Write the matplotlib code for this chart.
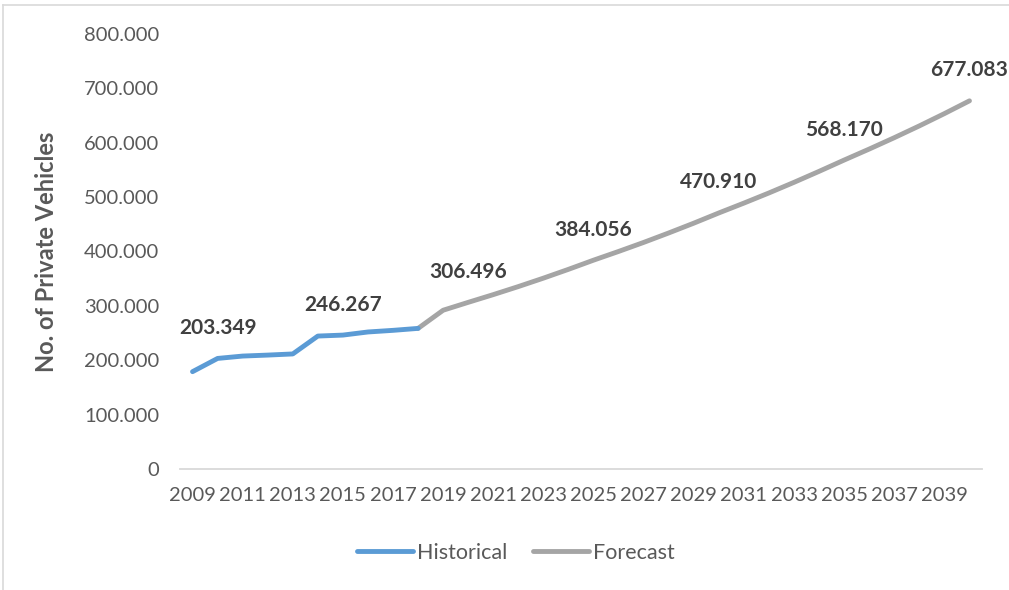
import matplotlib.pyplot as plt
from matplotlib.lines import Line2D

# years on the category axis
years = list(range(2009, 2041))

# historical private vehicles (thousands), 2009-2018
hist_years = list(range(2009, 2019))
hist_vals = [179.0, 203.349, 207.7, 209.5, 211.6, 244.5, 246.267, 252.0, 255.0, 258.6]

# forecast (thousands), 2018-2040
fc_years = list(range(2018, 2041))
fc_vals = [258.6, 292.0, 306.496, 320.7, 335.5, 351.0, 367.2, 384.056,
           400.1, 416.7, 434.1, 452.1, 470.910, 489.0, 507.7, 527.2,
           547.4, 568.170, 588.4, 609.3, 631.0, 653.6, 677.083]

# which points get a value label
label_years = [2010, 2015, 2020, 2025, 2030, 2035, 2040]

tick_years = years[::2]

blue = "#5B9BD5"
grey = "#A5A5A5"
txt = "#595959"
lbl = "#404040"

plt.rcParams["font.family"] = ["Lato", "DejaVu Sans"]

fig = plt.figure(figsize=(10.09, 5.90), dpi=100)
ax = fig.add_axes([180 / 1009, 1 - 469 / 590, 802 / 1009, 435 / 590])

idx = {y: i for i, y in enumerate(years)}
ax.plot([idx[y] for y in hist_years], hist_vals, color=blue, lw=3.5,
        solid_capstyle="round", label="Historical", zorder=3)
ax.plot([idx[y] for y in fc_years], fc_vals, color=grey, lw=3.5,
        solid_capstyle="round", label="Forecast", zorder=2)

all_vals = dict(zip(hist_years, hist_vals))
all_vals.update(dict(zip(fc_years, fc_vals)))
for y in label_years:
    v = all_vals[y]
    ax.annotate(f"{v:.3f}", (idx[y], v), xytext=(0, 22), textcoords="offset points",
                ha="center", va="center", fontsize=15, fontweight="bold", color=lbl)

ax.set_xlim(-0.5, len(years) - 0.5)
ax.set_ylim(0, 800)
ax.set_xticks([idx[y] for y in tick_years])
ax.set_xticklabels([str(y) for y in tick_years])
ax.set_yticks(range(0, 801, 100))
ax.set_yticklabels(["0"] + [f"{v}.000" for v in range(100, 801, 100)])
ax.tick_params(length=0, labelsize=14.5, colors=txt)
ax.tick_params(axis="x", pad=13)
ax.tick_params(axis="y", pad=15)

for s in ["top", "right", "left"]:
    ax.spines[s].set_visible(False)
ax.spines["bottom"].set_color("#D9D9D9")
ax.spines["bottom"].set_linewidth(1.3)

ax.set_ylabel("No. of Private Vehicles", fontsize=17, fontweight="bold", color=txt)
ax.yaxis.set_label_coords(-0.152, 0.5)

fig.legend(loc="center", bbox_to_anchor=(516 / 1009, 1 - 553 / 590), ncol=2,
           frameon=False, fontsize=15.5, labelcolor=txt, handlelength=2.6,
           handletextpad=0.2, columnspacing=1.2)

# chart area border (top and left visible)
fig.add_artist(Line2D([3 / 1009, 1], [1 - 5 / 590, 1 - 5 / 590], color="#D9D9D9", lw=1.2))
fig.add_artist(Line2D([3 / 1009, 3 / 1009], [0, 1 - 5 / 590], color="#D9D9D9", lw=1.2))

fig.savefig("out.png", dpi=100)
